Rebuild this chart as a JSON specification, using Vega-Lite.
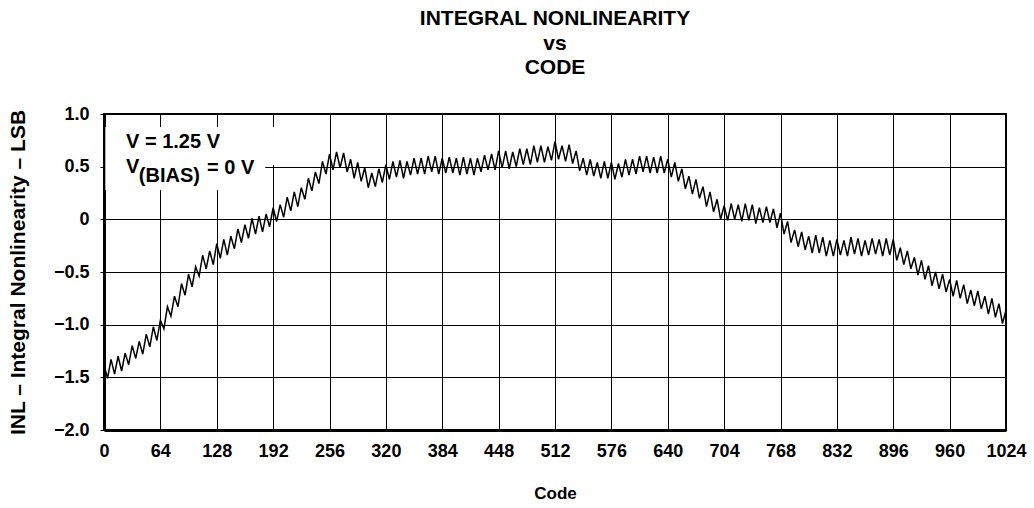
{
  "$schema": "https://vega.github.io/schema/vega-lite/v6.json",
  "width": 902,
  "height": 316,
  "autosize": {"type": "none"},
  "padding": {"left": 104, "top": 114, "right": 28, "bottom": 78},
  "background": "white",
  "config": {
    "font": "Liberation Sans",
    "view": {"stroke": "black", "strokeWidth": 2},
    "axis": {
      "grid": true,
      "gridColor": "black",
      "gridWidth": 1,
      "gridOpacity": 1,
      "domainColor": "black",
      "domainWidth": 3,
      "labelFont": "Liberation Sans",
      "labelFontWeight": "bold",
      "labelFontSize": 18,
      "labelColor": "black",
      "labelOverlap": false,
      "titleFont": "Liberation Sans",
      "titleFontWeight": "bold",
      "titleFontSize": 17,
      "titleColor": "black"
    }
  },
  "title": {
    "text": ["INTEGRAL NONLINEARITY", "vs", "CODE"],
    "font": "Liberation Sans",
    "fontSize": 21,
    "fontWeight": "bold",
    "color": "black",
    "anchor": "middle",
    "frame": "group",
    "lineHeight": 24.5,
    "offset": 27
  },
  "datasets": {
    "inl": [
      {"code":0,"inl":-1.38},{"code":4,"inl":-1.51},{"code":8,"inl":-1.33},{"code":12,"inl":-1.47},{"code":16,"inl":-1.30},{"code":20,"inl":-1.44},{"code":24,"inl":-1.27},{"code":28,"inl":-1.38},
      {"code":32,"inl":-1.20},{"code":36,"inl":-1.32},{"code":40,"inl":-1.16},{"code":44,"inl":-1.28},{"code":48,"inl":-1.09},{"code":52,"inl":-1.21},{"code":56,"inl":-1.02},{"code":60,"inl":-1.15},
      {"code":64,"inl":-0.96},{"code":68,"inl":-1.04},{"code":72,"inl":-0.83},{"code":76,"inl":-0.92},{"code":80,"inl":-0.73},{"code":84,"inl":-0.83},{"code":88,"inl":-0.61},{"code":92,"inl":-0.72},
      {"code":96,"inl":-0.52},{"code":100,"inl":-0.64},{"code":104,"inl":-0.45},{"code":108,"inl":-0.54},{"code":112,"inl":-0.34},{"code":116,"inl":-0.47},{"code":120,"inl":-0.30},{"code":124,"inl":-0.43},
      {"code":128,"inl":-0.23},{"code":132,"inl":-0.37},{"code":136,"inl":-0.19},{"code":140,"inl":-0.34},{"code":144,"inl":-0.16},{"code":148,"inl":-0.28},{"code":152,"inl":-0.09},{"code":156,"inl":-0.22},
      {"code":160,"inl":-0.05},{"code":164,"inl":-0.18},{"code":168,"inl":0.01},{"code":172,"inl":-0.14},{"code":176,"inl":0.03},{"code":180,"inl":-0.12},{"code":184,"inl":0.05},{"code":188,"inl":-0.07},
      {"code":192,"inl":0.11},{"code":196,"inl":-0.02},{"code":200,"inl":0.14},{"code":204,"inl":0.02},{"code":208,"inl":0.21},{"code":212,"inl":0.08},{"code":216,"inl":0.26},{"code":220,"inl":0.12},
      {"code":224,"inl":0.30},{"code":228,"inl":0.19},{"code":232,"inl":0.39},{"code":236,"inl":0.27},{"code":240,"inl":0.45},{"code":244,"inl":0.34},{"code":248,"inl":0.55},{"code":252,"inl":0.43},
      {"code":256,"inl":0.62},{"code":260,"inl":0.47},{"code":264,"inl":0.64},{"code":268,"inl":0.49},{"code":272,"inl":0.63},{"code":276,"inl":0.45},{"code":280,"inl":0.57},{"code":284,"inl":0.39},
      {"code":288,"inl":0.54},{"code":292,"inl":0.36},{"code":296,"inl":0.49},{"code":300,"inl":0.30},{"code":304,"inl":0.44},{"code":308,"inl":0.31},{"code":312,"inl":0.48},{"code":316,"inl":0.35},
      {"code":320,"inl":0.52},{"code":324,"inl":0.38},{"code":328,"inl":0.55},{"code":332,"inl":0.40},{"code":336,"inl":0.56},{"code":340,"inl":0.39},{"code":344,"inl":0.55},{"code":348,"inl":0.42},
      {"code":352,"inl":0.58},{"code":356,"inl":0.43},{"code":360,"inl":0.58},{"code":364,"inl":0.43},{"code":368,"inl":0.60},{"code":372,"inl":0.45},{"code":376,"inl":0.60},{"code":380,"inl":0.43},
      {"code":384,"inl":0.58},{"code":388,"inl":0.44},{"code":392,"inl":0.59},{"code":396,"inl":0.44},{"code":400,"inl":0.58},{"code":404,"inl":0.42},{"code":408,"inl":0.59},{"code":412,"inl":0.43},
      {"code":416,"inl":0.58},{"code":420,"inl":0.42},{"code":424,"inl":0.58},{"code":428,"inl":0.45},{"code":432,"inl":0.61},{"code":436,"inl":0.47},{"code":440,"inl":0.62},{"code":444,"inl":0.47},
      {"code":448,"inl":0.65},{"code":452,"inl":0.49},{"code":456,"inl":0.65},{"code":460,"inl":0.48},{"code":464,"inl":0.64},{"code":468,"inl":0.50},{"code":472,"inl":0.67},{"code":476,"inl":0.52},
      {"code":480,"inl":0.67},{"code":484,"inl":0.52},{"code":488,"inl":0.70},{"code":492,"inl":0.54},{"code":496,"inl":0.70},{"code":500,"inl":0.54},{"code":504,"inl":0.69},{"code":508,"inl":0.56},
      {"code":512,"inl":0.74},{"code":516,"inl":0.57},{"code":520,"inl":0.70},{"code":524,"inl":0.55},{"code":528,"inl":0.71},{"code":532,"inl":0.53},{"code":536,"inl":0.65},{"code":540,"inl":0.46},
      {"code":544,"inl":0.58},{"code":548,"inl":0.42},{"code":552,"inl":0.57},{"code":556,"inl":0.41},{"code":560,"inl":0.54},{"code":564,"inl":0.39},{"code":568,"inl":0.55},{"code":572,"inl":0.39},
      {"code":576,"inl":0.54},{"code":580,"inl":0.38},{"code":584,"inl":0.53},{"code":588,"inl":0.40},{"code":592,"inl":0.57},{"code":596,"inl":0.42},{"code":600,"inl":0.57},{"code":604,"inl":0.43},
      {"code":608,"inl":0.60},{"code":612,"inl":0.45},{"code":616,"inl":0.60},{"code":620,"inl":0.44},{"code":624,"inl":0.59},{"code":628,"inl":0.44},{"code":632,"inl":0.60},{"code":636,"inl":0.44},
      {"code":640,"inl":0.57},{"code":644,"inl":0.40},{"code":648,"inl":0.54},{"code":652,"inl":0.36},{"code":656,"inl":0.48},{"code":660,"inl":0.29},{"code":664,"inl":0.41},{"code":668,"inl":0.24},
      {"code":672,"inl":0.38},{"code":676,"inl":0.20},{"code":680,"inl":0.31},{"code":684,"inl":0.12},{"code":688,"inl":0.26},{"code":692,"inl":0.07},{"code":696,"inl":0.19},{"code":700,"inl":0.00},
      {"code":704,"inl":0.13},{"code":708,"inl":-0.01},{"code":712,"inl":0.15},{"code":716,"inl":0.00},{"code":720,"inl":0.14},{"code":724,"inl":-0.02},{"code":728,"inl":0.15},{"code":732,"inl":-0.01},
      {"code":736,"inl":0.14},{"code":740,"inl":-0.04},{"code":744,"inl":0.11},{"code":748,"inl":-0.03},{"code":752,"inl":0.12},{"code":756,"inl":-0.03},{"code":760,"inl":0.10},{"code":764,"inl":-0.08},
      {"code":768,"inl":0.06},{"code":772,"inl":-0.14},{"code":776,"inl":-0.02},{"code":780,"inl":-0.22},{"code":784,"inl":-0.10},{"code":788,"inl":-0.26},{"code":792,"inl":-0.12},{"code":796,"inl":-0.29},
      {"code":800,"inl":-0.16},{"code":804,"inl":-0.32},{"code":808,"inl":-0.15},{"code":812,"inl":-0.32},{"code":816,"inl":-0.17},{"code":820,"inl":-0.35},{"code":824,"inl":-0.20},{"code":828,"inl":-0.35},
      {"code":832,"inl":-0.19},{"code":836,"inl":-0.34},{"code":840,"inl":-0.20},{"code":844,"inl":-0.35},{"code":848,"inl":-0.17},{"code":852,"inl":-0.33},{"code":856,"inl":-0.18},{"code":860,"inl":-0.35},
      {"code":864,"inl":-0.20},{"code":868,"inl":-0.34},{"code":872,"inl":-0.18},{"code":876,"inl":-0.33},{"code":880,"inl":-0.19},{"code":884,"inl":-0.35},{"code":888,"inl":-0.18},{"code":892,"inl":-0.34},
      {"code":896,"inl":-0.19},{"code":900,"inl":-0.39},{"code":904,"inl":-0.27},{"code":908,"inl":-0.43},{"code":912,"inl":-0.30},{"code":916,"inl":-0.47},{"code":920,"inl":-0.36},{"code":924,"inl":-0.53},
      {"code":928,"inl":-0.39},{"code":932,"inl":-0.57},{"code":936,"inl":-0.44},{"code":940,"inl":-0.63},{"code":944,"inl":-0.50},{"code":948,"inl":-0.66},{"code":952,"inl":-0.52},{"code":956,"inl":-0.69},
      {"code":960,"inl":-0.57},{"code":964,"inl":-0.73},{"code":968,"inl":-0.58},{"code":972,"inl":-0.75},{"code":976,"inl":-0.62},{"code":980,"inl":-0.80},{"code":984,"inl":-0.67},{"code":988,"inl":-0.82},
      {"code":992,"inl":-0.68},{"code":996,"inl":-0.85},{"code":1000,"inl":-0.73},{"code":1004,"inl":-0.90},{"code":1008,"inl":-0.75},{"code":1012,"inl":-0.93},{"code":1016,"inl":-0.80},{"code":1020,"inl":-0.99},
      {"code":1024,"inl":-0.86}
    ],
    "note": [{"line1": "V = 1.25 V", "v": "V", "sub": "(BIAS)", "rest": "= 0 V"}]
  },
  "layer": [
    {
      "data": {"name": "inl"},
      "mark": {"type": "line", "color": "black", "strokeWidth": 1.5, "clip": true},
      "encoding": {
        "x": {
          "field": "code",
          "type": "quantitative",
          "scale": {"domain": [0, 1024], "nice": false, "zero": false},
          "axis": {
            "values": [0, 64, 128, 192, 256, 320, 384, 448, 512, 576, 640, 704, 768, 832, 896, 960, 1024],
            "format": "d",
            "ticks": false,
            "labelPadding": 12,
            "labelFlush": false,
            "title": "Code",
            "titlePadding": 25
          }
        },
        "y": {
          "field": "inl",
          "type": "quantitative",
          "scale": {"domain": [-2, 1], "nice": false, "zero": false},
          "axis": {
            "values": [-2, -1.5, -1, -0.5, 0, 0.5, 1],
            "labelExpr": "datum.value == 0 ? '0' : format(datum.value, '.1f')",
            "ticks": true,
            "tickSize": 4,
            "tickColor": "black",
            "tickWidth": 1,
            "labelPadding": 11,
            "labelFlush": false,
            "title": "INL – Integral Nonlinearity – LSB",
            "titleFontSize": 21,
            "titleAngle": 270,
            "titleX": -86,
            "titleY": 158,
            "titleAlign": "center",
            "titleBaseline": "middle"
          }
        }
      }
    },
    {
      "data": {"name": "note"},
      "mark": {"type": "rect", "fill": "white", "strokeWidth": 0},
      "encoding": {"x": {"datum": 1.5}, "x2": {"datum": 200}, "y": {"datum": 0.877}, "y2": {"datum": 0.516}}
    },
    {
      "data": {"name": "note"},
      "mark": {"type": "rect", "fill": "white", "strokeWidth": 0},
      "encoding": {"x": {"datum": 1.5}, "x2": {"datum": 183}, "y": {"datum": 0.516}, "y2": {"datum": 0.278}}
    },
    {
      "data": {"name": "note"},
      "mark": {"type": "text", "align": "left", "baseline": "middle", "font": "Liberation Sans", "fontWeight": "bold", "fontSize": 20, "color": "black"},
      "encoding": {"x": {"datum": 25}, "y": {"datum": 0.735}, "text": {"field": "line1"}}
    },
    {
      "data": {"name": "note"},
      "mark": {"type": "text", "align": "left", "baseline": "middle", "font": "Liberation Sans", "fontWeight": "bold", "fontSize": 20, "color": "black"},
      "encoding": {"x": {"datum": 25}, "y": {"datum": 0.5}, "text": {"field": "v"}}
    },
    {
      "data": {"name": "note"},
      "mark": {"type": "text", "align": "left", "baseline": "middle", "font": "Liberation Sans", "fontWeight": "bold", "fontSize": 20, "color": "black"},
      "encoding": {"x": {"datum": 39.5}, "y": {"datum": 0.41}, "text": {"field": "sub"}}
    },
    {
      "data": {"name": "note"},
      "mark": {"type": "text", "align": "left", "baseline": "middle", "font": "Liberation Sans", "fontWeight": "bold", "fontSize": 20, "color": "black"},
      "encoding": {"x": {"datum": 117}, "y": {"datum": 0.49}, "text": {"field": "rest"}}
    }
  ]
}
